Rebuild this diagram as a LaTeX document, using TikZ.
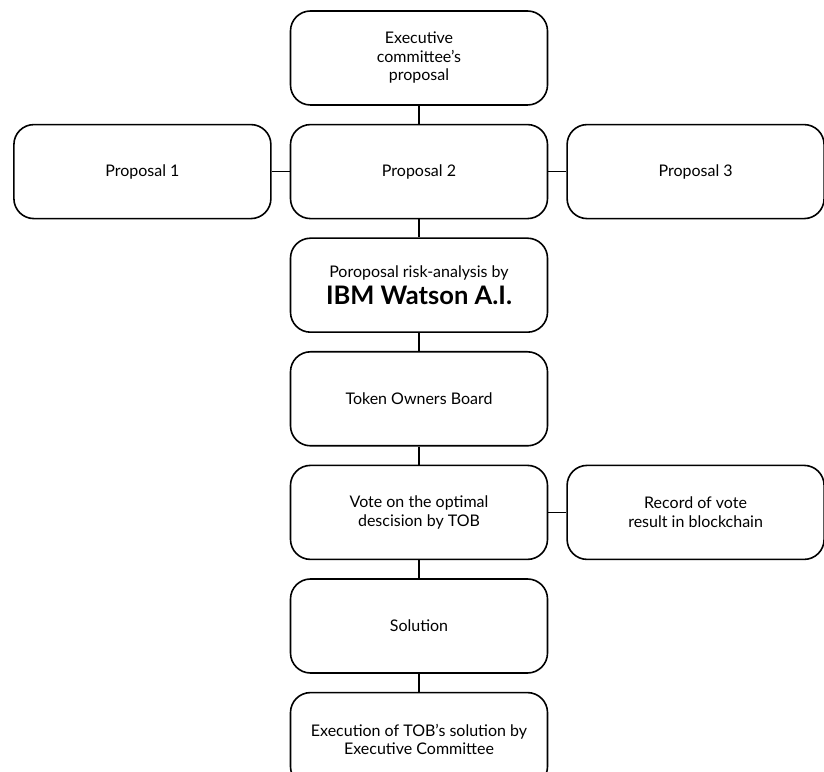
\documentclass[tikz,border=0pt]{standalone}
\usepackage{fontspec}
\setmainfont{Lato}
\usetikzlibrary{positioning}

\begin{document}
\begin{tikzpicture}[node distance={18pt}, x=1pt, y=1pt,
    box/.style={draw, line width=1.6pt, rounded corners=20pt, minimum width=257pt,
      minimum height=94pt, align=center, font=\fontsize{16}{18.5}\selectfont}]
    \clip (0,0) rectangle (824,771);
    \node[box] (exec) at (419,713) {Executive\\committee's\\proposal};
    \node[box] (prop2) [below=of exec] {Proposal 2};
    \node[box] (prop1) [left=of prop2] {Proposal 1};
    \node[box] (prop3) [right=of prop2] {Proposal 3};
    \node[box] (ibm) [below=of prop2] {Poroposal risk-analysis by\\[4pt]{\fontsize{25.5}{28}\selectfont\bfseries IBM Watson A.I.}};
    \node[box] (tob) [below=of ibm] {Token Owners Board};
    \node[box] (vote) [below=of tob] {Vote on the optimal\\descision by TOB};
    \node[box] (record) [right=of vote] {Record of vote\\result in blockchain};
    \node[box] (sol) [below=of vote] {Solution};
    \node[box] (run) [below=of sol] {Execution of TOB's solution by\\Executive Committee};
\begin{scope}[line width=1.6pt]
    \draw (exec) -- (prop2);
    \draw (prop1) -- (prop2);
    \draw (prop2) -- (prop3);
    \draw (prop2) -- (ibm);
    \draw (ibm) -- (tob);
    \draw (tob) -- (vote);
    \draw (vote) -- (record);
    \draw (vote) -- (sol);
    \draw (sol) -- (run);
\end{scope}
\end{tikzpicture}
\end{document}
